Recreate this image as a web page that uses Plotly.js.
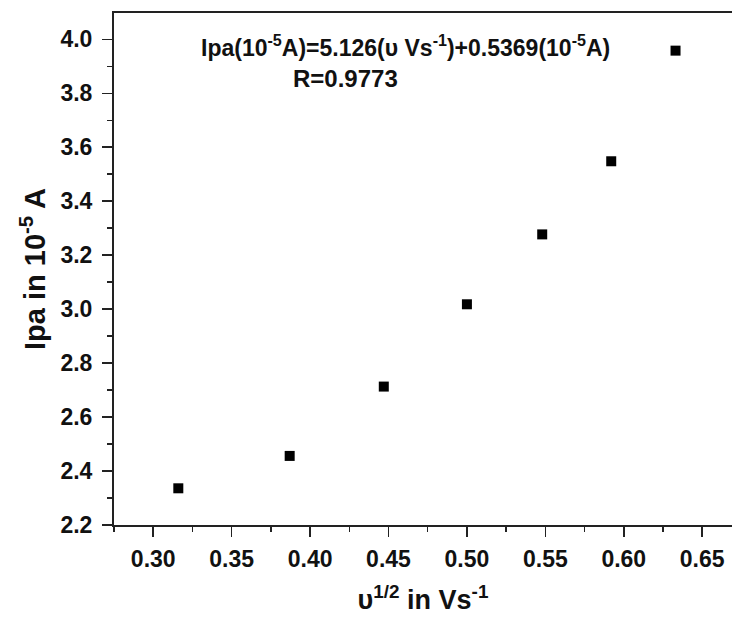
<!DOCTYPE html>
<html>
<head>
<meta charset="utf-8">
<script src="https://cdn.plot.ly/plotly-3.0.1.min.js"></script>
<style>html,body{margin:0;padding:0;background:#fff;}#chart{width:732px;height:617px;}</style>
</head>
<body>
<div id="chart"></div>
<script>
var scanRootSqrt = [0.316, 0.387, 0.447, 0.500, 0.548, 0.592, 0.633];
var peakCurrent = [2.336, 2.456, 2.713, 3.018, 3.277, 3.548, 3.958];
var xTickVals = [0.30, 0.35, 0.40, 0.45, 0.50, 0.55, 0.60, 0.65];
var yTickVals = [2.2, 2.4, 2.6, 2.8, 3.0, 3.2, 3.4, 3.6, 3.8, 4.0];
var equationText = 'Ipa(10<sup>-5</sup>A)=5.126(υ Vs<sup>-1</sup>)+0.5369(10<sup>-5</sup>A)';
var rText = 'R=0.9773';

var fontFam = '"Liberation Sans", Arial, sans-serif';

var trace = {
  x: scanRootSqrt,
  y: peakCurrent,
  type: 'scatter',
  mode: 'markers',
  marker: {symbol: 'square', size: 10, color: '#000'},
  showlegend: false,
  hoverinfo: 'x+y'
};

var layout = {
  width: 732, height: 617,
  margin: {l: 114, r: 0, t: 13, b: 92},
  paper_bgcolor: '#fff', plot_bgcolor: '#fff',
  font: {family: fontFam, color: '#111'},
  showlegend: false,
  xaxis: {
    range: [0.275, 0.669],
    tickvals: xTickVals,
    ticktext: xTickVals.map(function(v){return v.toFixed(2);}),
    ticks: 'outside', ticklen: 10, tickwidth: 1.5, tickcolor: '#222',
    ticklabelstandoff: 2,
    minor: {dtick: 0.025, tick0: 0.275, ticks: 'outside', ticklen: 5, tickwidth: 1.5, tickcolor: '#222', showgrid: false},
    showline: true, linecolor: '#222', linewidth: 2, mirror: true,
    showgrid: false, zeroline: false,
    tickfont: {family: fontFam, size: 23, color: '#111', weight: 'bold'},
    title: {text: '<b>υ<sup>1/2</sup> in Vs<sup>-1</sup></b>', font: {family: fontFam, size: 27, color: '#111'}, standoff: 20}
  },
  yaxis: {
    range: [2.2, 4.0975],
    tickvals: yTickVals,
    ticktext: yTickVals.map(function(v){return v.toFixed(1);}),
    ticks: 'outside', ticklen: 10, tickwidth: 1.5, tickcolor: '#222',
    ticklabelstandoff: 5,
    minor: {dtick: 0.1, tick0: 2.2, ticks: 'outside', ticklen: 5, tickwidth: 1.5, tickcolor: '#222', showgrid: false},
    showline: true, linecolor: '#222', linewidth: 2, mirror: false,
    showgrid: false, zeroline: false,
    tickfont: {family: fontFam, size: 23, color: '#111', weight: 'bold'},
    title: {text: '<b>Ipa in 10<sup>-5</sup> A</b>', font: {family: fontFam, size: 29, color: '#111'}, standoff: 6}
  },
  annotations: [
    {xref: 'paper', yref: 'paper', x: 0.472, y: 0.935, text: '<b>' + equationText + '</b>', showarrow: false,
     font: {family: fontFam, size: 23, color: '#111'}, xanchor: 'center', yanchor: 'middle'},
    {xref: 'paper', yref: 'paper', x: 0.375, y: 0.872, text: '<b>' + rText + '</b>', showarrow: false,
     font: {family: fontFam, size: 24, color: '#111'}, xanchor: 'center', yanchor: 'middle'}
  ]
};

Plotly.newPlot('chart', [trace], layout, {displayModeBar: false, staticPlot: true});
</script>
</body>
</html>
